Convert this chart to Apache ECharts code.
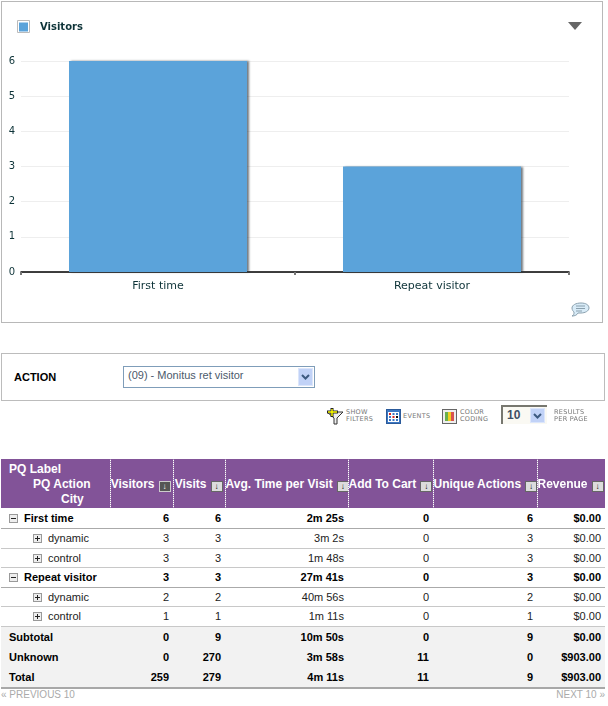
<!DOCTYPE html>
<html>
<head>
<meta charset="utf-8">
<script src="https://cdn.jsdelivr.net/npm/echarts@6/dist/echarts.min.js"></script>
<style>
html,body{margin:0;padding:0;background:#fff;width:608px;height:706px;overflow:hidden;font-family:"Liberation Sans",Arial,sans-serif}
.abs{position:absolute}
#panel{left:1px;top:1px;width:600px;height:320px;border:1px solid #b8b8b8}
#main1{left:0;top:0;width:608px;height:330px}
#actionbox{left:1px;top:353px;width:602px;height:46px;border:1px solid #bcbcbc}
#actionlabel{left:14px;top:371px;font-size:11px;font-weight:bold;color:#000}
#select{left:123px;top:366px;width:190px;height:20px;border:1px solid #7f9db9;font-size:11px;color:#4b5a6b;line-height:17px;text-indent:4px}
.arrowbtn{background:#c1d2f7;border:1px solid #dce6fb;box-sizing:border-box;text-align:center}
#selbtn{left:298px;top:368px;width:15px;height:18px}
.tool{font-family:"DejaVu Sans",sans-serif;font-size:6.5px;line-height:7px;color:#777;letter-spacing:.3px}
#perpage{left:501px;top:405px;width:46px;height:19px;background:#faf9f3;border-top:2px solid #77776f;border-left:2px solid #77776f;box-sizing:border-box;font-size:12px;font-weight:bold;color:#3f4f66;line-height:17px;text-indent:4px}
#perbtn{left:530px;top:408px;width:15px;height:15px}
#grid{left:1px;top:459px;width:604px;border-collapse:collapse;table-layout:fixed;font-size:11px;color:#222}
#grid th{background:#825398;color:#fff;font-size:12px;font-weight:bold;padding:0 2px 0 0;text-align:right;height:49px;border-left:1px dotted #a58ab4;white-space:nowrap;overflow:hidden}
#grid th:first-child{border-left:none;text-align:left;line-height:15px;padding:0 0 0 8px}
#grid th:first-child div{position:relative;top:1px}
#grid td{height:18.5px;padding:0 4px 0 0;text-align:right;border-bottom:1px solid #c8c8c8;white-space:nowrap}
#grid td:first-child{text-align:left;padding:0 0 0 8px}
#grid tr.b td{font-weight:bold;color:#000;border-bottom:1px solid #aaa}
#grid tr.first td{height:20px}
#grid tr.c td:first-child{padding-left:32px}
#grid tr.s td{background:#f2f2f2;font-weight:bold;color:#000;border-bottom:none;height:20px}
#grid tr.last td{border-bottom:2px solid #a8a8a8}
.box{display:inline-block;width:9px;height:9px;border:1px solid #999;background:#eee;box-sizing:border-box;margin-right:6px;position:relative;top:1px}
.pl{position:absolute;left:1px;top:3px;width:5px;height:1px;background:#222}
.pv{position:absolute;left:3px;top:1px;width:1px;height:5px;background:#222}
.sort{display:inline-block;width:12px;height:11px;background:#dcdcdc;border:1px solid #666;box-sizing:border-box;margin-left:4px;position:relative;top:1px;color:#000;font-size:8px;line-height:9px;text-align:center;font-weight:bold}
.sort.on{background:#555;color:#fff;border-color:#ccc}
.pager{font-size:10px;color:#aaa}
</style>
</head>
<body>
<div id="panel" class="abs"></div>
<div id="main1" class="abs"></div>
<svg class="abs" style="left:568px;top:300px" width="24" height="20">
<path d="M4 8c0-3 4-5 9-5s8 2 8 5-4 5-8 5h-3c-1 2-3 3-6 3 2-1 2-2 2-4-1-1-2-2-2-4z" fill="#d8ebf7" stroke="#8aa0ae"/>
<path d="M8 6h9M8 8.5h9M8 11h6" stroke="#8aa0ae" fill="none"/>
</svg>

<div id="actionbox" class="abs"></div>
<div id="actionlabel" class="abs">ACTION</div>
<div id="select" class="abs">(09) - Monitus ret visitor</div>
<div id="selbtn" class="abs arrowbtn"><svg width="13" height="16"><path d="M3 6l3.5 3.5L10 6" fill="none" stroke="#3d5a80" stroke-width="2"/></svg></div>

<svg class="abs" style="left:326px;top:407px" width="20" height="18">
<path d="M1 5h16l-6 6v6h-3v-6z" fill="#eee" stroke="#333"/>
<path d="M1 5h11M6 1v9" stroke="#222" stroke-width="3"/><path d="M2 5h9M6 2v7" stroke="#ff0" stroke-width="1.4"/>
</svg>
<div class="abs tool" style="left:346px;top:409px">SHOW<br>FILTERS</div>
<svg class="abs" style="left:386px;top:409px" width="15" height="15">
<rect x=".5" y=".5" width="14" height="14" fill="#3d78c4" stroke="#2b5a9a"/>
<rect x="2" y="3" width="11" height="10" fill="#fff"/>
<g fill="#3d78c4"><rect x="3" y="4" width="2" height="2" fill="#d22"/><rect x="6.5" y="4" width="2" height="2"/><rect x="10" y="4" width="2" height="2"/><rect x="3" y="7" width="2" height="2"/><rect x="6.5" y="7" width="2" height="2" fill="#d22"/><rect x="10" y="7" width="2" height="2" fill="#111"/><rect x="3" y="10" width="2" height="2"/><rect x="6.5" y="10" width="2" height="2"/><rect x="10" y="10" width="2" height="2"/></g>
</svg>
<div class="abs tool" style="left:403px;top:413px">EVENTS</div>
<svg class="abs" style="left:442px;top:409px" width="15" height="15">
<rect x=".5" y=".5" width="14" height="14" fill="#eee" stroke="#666"/>
<rect x="3" y="3" width="3" height="9" fill="#6ab04c"/><rect x="6" y="3" width="3" height="9" fill="#f0d020"/><rect x="9" y="3" width="3" height="9" fill="#d9534f"/>
</svg>
<div class="abs tool" style="left:460px;top:409px">COLOR<br>CODING</div>
<div id="perpage" class="abs">10</div>
<div id="perbtn" class="abs arrowbtn"><svg width="13" height="13"><path d="M3 4l3.5 3.5L10 4" fill="none" stroke="#3d5a80" stroke-width="2"/></svg></div>
<div class="abs tool" style="left:554px;top:409px">RESULTS<br>PER PAGE</div>

<table id="grid" class="abs"></table>
<div class="abs pager" style="left:1px;top:689px">« PREVIOUS 10</div>
<div class="abs pager" style="right:3px;top:689px">NEXT 10 »</div>

<script>
var categories = ["First time", "Repeat visitor"];
var visitors = [6, 3];
var seriesName = "Visitors";

var columns = ["Visitors", "Visits", "Avg. Time per Visit", "Add To Cart", "Unique Actions", "Revenue"];
var columnWidths = [109, 63, 52, 123, 85, 104, 68];
var rowLabels = ["First time", "dynamic", "control", "Repeat visitor", "dynamic", "control", "Subtotal", "Unknown", "Total"];
var rowTypes = ["b first", "c", "c", "b", "c", "c", "s", "s", "s last"];
var colVisitors = [6, 3, 3, 3, 2, 1, 0, 0, 259];
var colVisits = [6, 3, 3, 3, 2, 1, 9, 270, 279];
var colAvgTime = ["2m 25s", "3m 2s", "1m 48s", "27m 41s", "40m 56s", "1m 11s", "10m 50s", "3m 58s", "4m 11s"];
var colAddToCart = [0, 0, 0, 0, 0, 0, 0, 11, 11];
var colUnique = [6, 3, 3, 3, 2, 1, 9, 0, 9];
var colRevenue = ["$0.00", "$0.00", "$0.00", "$0.00", "$0.00", "$0.00", "$0.00", "$903.00", "$903.00"];

function buildTable() {
	var html = "<colgroup>";
	for (var w = 0; w < columnWidths.length; w++) {
		html += '<col style="width:' + columnWidths[w] + 'px">';
	}
	html += '</colgroup><tr><th><div>PQ Label<br><span style="margin-left:24px">PQ Action</span><br><span style="margin-left:52px">City</span></div></th>';
	for (var c = 0; c < columns.length; c++) {
		html += "<th>" + columns[c] + '<span class="sort' + (c == 0 ? " on" : "") + '">↓</span></th>';
	}
	html += "</tr>";
	for (var i = 0; i < rowLabels.length; i++) {
		var type = rowTypes[i];
		var icon = "";
		if (type.indexOf("b") == 0) icon = '<span class="box"><i class="pl"></i></span>';
		if (type == "c") icon = '<span class="box"><i class="pl"></i><i class="pv"></i></span>';
		html += '<tr class="' + type + '"><td>' + icon + rowLabels[i] + "</td><td>" + colVisitors[i] + "</td><td>" + colVisits[i] +
			"</td><td>" + colAvgTime[i] + "</td><td>" + colAddToCart[i] + "</td><td>" + colUnique[i] + "</td><td>" + colRevenue[i] + "</td></tr>";
	}
	document.getElementById("grid").innerHTML = html;
}

function setChartsView() {
	var myChart = echarts.init(document.getElementById("main1"), null, { renderer: "canvas" });
	var textColor = "#0d3338";
	var option = {
		animation: false,
		grid: { left: 21, right: 39, top: 61, bottom: 58 },
		legend: {
			left: 19, top: 22, icon: "rect", itemWidth: 9, itemHeight: 9, itemGap: 4, padding: 0,
			selectedMode: false,
			textStyle: { color: textColor, fontFamily: "DejaVu Sans", fontSize: 10, fontWeight: "bold", padding: [0, 0, 0, 7] }
		},
		xAxis: {
			type: "category",
			data: categories,
			axisLine: { lineStyle: { color: "#000", width: 1.5 } },
			axisTick: { show: true, length: 3, lineStyle: { color: "#777", width: 2 } },
			axisLabel: { color: textColor, fontFamily: "DejaVu Sans", fontSize: 11, margin: 9 }
		},
		yAxis: {
			type: "value",
			min: 0, max: 6, interval: 1,
			axisLine: { show: false },
			axisTick: { show: false },
			axisLabel: { color: textColor, fontFamily: "DejaVu Sans", fontSize: 10, margin: 6 },
			splitLine: { lineStyle: { color: "#eeeeee", width: 1 } }
		},
		series: [{
			name: seriesName,
			type: "bar",
			data: visitors,
			barWidth: 178,
			itemStyle: { color: "#5ba3da", shadowColor: "rgba(40,50,60,.65)", shadowBlur: 2, shadowOffsetX: 2, shadowOffsetY: 0 }
		}],
		graphic: [
			{ type: "rect", shape: { x: 17.5, y: 20.5, width: 12, height: 12 }, style: { fill: "none", stroke: "#bbb", lineWidth: 1 } },
			{ type: "polygon", shape: { points: [[568, 22], [582, 22], [575, 30]] }, style: { fill: "#666" } }
		]
	};
	myChart.setOption(option);
}

buildTable();
setChartsView();
</script>
</body>
</html>
